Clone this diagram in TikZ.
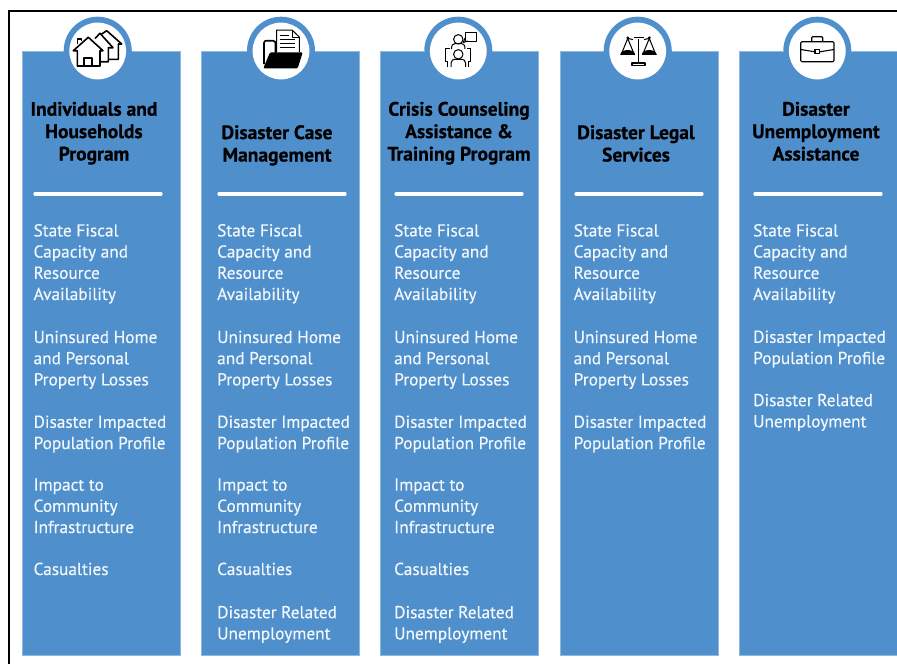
\documentclass[tikz,border=0pt]{standalone}
\usepackage{fontspec}
\setmainfont{PT Sans}
\newfontfamily\bodyface{PT Sans}[RawFeature={embolden=0.35}]
\newfontfamily\headface{PT Sans Bold}[RawFeature={embolden=0.5}]
\definecolor{panelblue}{HTML}{4F8FCC}
\definecolor{paneledge}{HTML}{8DB8E2}
\definecolor{bodywhite}{HTML}{F2F7FC}
\tikzset{
  panel/.style={fill=panelblue,draw=paneledge,line width=0.6pt},
  ringout/.style={fill=panelblue,draw=none},
  ringin/.style={fill=white,draw=none},
  titletext/.style={font=\fontsize{19.5}{22.4}\headface,text=black,align=center,inner sep=0pt,anchor=base},
  bodytext/.style={font=\fontsize{17.3}{21.2}\bodyface,text=bodywhite,align=left,inner sep=0pt,anchor=base west},
  rulewhite/.style={draw=white,line width=3.2pt,line cap=round},
  ico/.style={draw=black,line width=1.6pt,line join=round,fill=none},
  icothin/.style={draw=black,line width=1pt,line join=round,fill=none},
}
\begin{document}
\begin{tikzpicture}[x=1pt,y=-1pt]
\useasboundingbox (0,0) rectangle (897,664);
\fill[white] (0,0) rectangle (897,664);
\draw[black,line width=2pt] (9,664) -- (9,10.5) -- (897,10.5);
% circles and panels
\foreach \cx in {97.7,281,458.3,637.7,817.3}{
  \fill[ringout] (\cx,50.7) circle[radius=34];
}
\begin{scope}
\clip (0,0) rectangle (897,664);
\fill[panel] (22.5,51.5) rectangle (180.5,655.5);
\fill[panel] (201.5,51.5) rectangle (359.5,655.5);
\fill[panel] (380.5,51.5) rectangle (538.5,655.5);
\fill[panel] (560,51.5) rectangle (718,655.5);
\fill[panel] (739.5,51.5) rectangle (900,655.5);
\draw[paneledge,line width=0.6pt] (22.5,51.5) rectangle (180.5,655.5);
\draw[paneledge,line width=0.6pt] (201.5,51.5) rectangle (359.5,655.5);
\draw[paneledge,line width=0.6pt] (380.5,51.5) rectangle (538.5,655.5);
\draw[paneledge,line width=0.6pt] (560,51.5) rectangle (718,655.5);
\draw[paneledge,line width=0.6pt] (739.5,51.5) rectangle (900,655.5);
\end{scope}
\foreach \cx in {97.7,281,458.3,637.7,817.3}{
  \fill[panelblue] (\cx-33.8,50) rectangle (\cx+33.8,53);
  \fill[ringin] (\cx,51) circle[radius=28.4];
}
% icon: houses
\draw[ico] (95,38.5) -- (100,33.3) -- (113,47.7) -- (108.3,47.7) -- (108.3,61.7) -- (100,61.7);
\draw[ico] (101,34.5) -- (106.7,30.7) -- (121.7,44) -- (118.3,44) -- (118.3,59.3) -- (108.3,59.3);
\fill[white] (88.3,37.3) -- (73.3,50.7) -- (77.3,50.7) -- (77.3,66) -- (100,66) -- (100,50.7) -- (103,50.7) -- cycle;
\draw[ico] (88.3,37.3) -- (73.3,50.7) -- (77.3,50.7) -- (77.3,66) -- (100,66) -- (100,50.7) -- (103,50.7) -- cycle;
\draw[ico] (84,66) -- (84,58) -- (92,58) -- (92,66);
\draw[ico] (77.5,44) -- (77.5,39) -- (81.5,39) -- (81.5,40.5);
% icon: folder
\draw[ico] (264,64) -- (264,43) .. controls (264,41.5) and (265,40.7) .. (266,40.7) -- (273,40.7) .. controls (275,40.7) and (275.5,42) .. (275.5,44) -- (275.5,54);
\draw[icothin,fill=white] (276.7,52) -- (276.7,30) -- (292,30) -- (299.3,37) -- (299.3,52);
\draw[icothin] (292,30) -- (292,37) -- (299.3,37);
\draw[icothin] (279.5,35) -- (289,35) (279.5,39) -- (295,39) (279.5,43) -- (295,43) (279.5,47) -- (295,47);
\fill[black,rounded corners=1.2pt] (270,52.3) -- (302.7,52.3) -- (297.7,68.3) -- (263.3,68.3) -- cycle;
% icon: people
\draw[icothin] (458.3,39.3) circle[radius=4.7];
\draw[icothin] (451.5,49) .. controls (451.5,45) and (453,43.6) .. (455,43.6) -- (461.6,43.6) .. controls (463.6,43.6) and (465,45) .. (465,49);
\draw[icothin] (465,32.7) rectangle (476.7,41);
\draw[icothin] (465,38) -- (463.3,42.5) -- (468,41);
\draw[icothin] (458.3,54.3) circle[radius=4.7];
\draw[icothin] (451,66.8) -- (451,63) .. controls (451,60) and (453.5,59.3) .. (455,59.3) -- (461.6,59.3) .. controls (463,59.3) and (465.6,60) .. (465.6,63) -- (465.6,66.8);
\draw[icothin] (450,48.3) -- (445,48.3) -- (445,61.7) -- (447.5,61.7) -- (447.5,66.8);
\draw[icothin] (466.5,48.3) -- (470.5,48.3) -- (470.5,61.7) -- (468.5,61.7) -- (468.5,66.8);
% icon: scales
\draw[ico] (638.3,38.5) -- (638.3,62.5);
\draw[ico,fill=white] (631.7,62.8) rectangle (645,65.5);
\draw[ico] (633.5,37.5) -- (643.5,37.5);
\draw[icothin] (628,38.5) -- (633,39.5) (644,39.5) -- (649,38.5);
\draw[icothin] (627.7,38.5) -- (621,55) (627.7,38.5) -- (634.5,55);
\draw[icothin] (649.3,38.5) -- (642.5,55) (649.3,38.5) -- (656,55);
\fill[black] (627.7,37.8) circle[radius=1.5] (649.3,37.8) circle[radius=1.5];
\fill[black] (620.3,54.8) -- (635.1,54.8) arc[start angle=0,end angle=180,x radius=7.4,y radius=-4.8] -- cycle;
\fill[black] (641.9,54.8) -- (656.7,54.8) arc[start angle=0,end angle=180,x radius=7.4,y radius=-4.8] -- cycle;
% icon: briefcase
\draw[icothin,rounded corners=1.2pt,line width=1.1pt] (800.7,41.7) rectangle (834,61.7);
\draw[icothin,line width=1.1pt] (800.7,49.5) -- (814.8,51.8) (819.8,51.8) -- (834,49.5);
\draw[icothin,rounded corners=1pt,line width=1.1pt] (811.7,41.7) -- (811.7,36.7) -- (822.7,36.7) -- (822.7,41.7);
\draw[icothin,fill=white,line width=1.1pt] (815,49.5) rectangle (819.6,53.8);
% titles
\node[titletext] (t1) at (94,160.5) {Individuals and\\Households\\Program};
\node[titletext] (t2) at (277,161.5) {Disaster Case\\Management};
\node[titletext] (t3) at (459,160.5) {Crisis Counseling\\Assistance \&\\Training Program};
\node[titletext] (t4) at (636,161.5) {Disaster Legal\\Services};
\node[titletext] (t5) at (816,160.5) {Disaster\\Unemployment\\Assistance};
% rules
\coordinate (ra1) at (35,194); \coordinate (rb1) at (161,194);
\coordinate (ra2) at (219,194); \coordinate (rb2) at (345,194);
\coordinate (ra3) at (396,194); \coordinate (rb3) at (522,194);
\coordinate (ra4) at (576,194); \coordinate (rb4) at (702,194);
\coordinate (ra5) at (755,194); \coordinate (rb5) at (881,194);
\foreach \i in {1,...,5}{\draw[rulewhite] (ra\i) -- (rb\i);}
% column bodies
\foreach \x/\c in {33.4/a,217/b,394/c,573.5/d,753/e}{
  \node[bodytext] (\c1) at (\x,300) {State Fiscal\\Capacity and\\Resource\\Availability};
}
\foreach \x/\c in {33.4/a,217/b,394/c,573.5/d}{
  \node[bodytext] (\c2) at (\x,385.4) {Uninsured Home\\and Personal\\Property Losses};
  \node[bodytext] (\c3) at (\x,449) {Disaster Impacted\\Population Profile};
}
\foreach \x/\c in {33.4/a,217/b,394/c}{
  \node[bodytext] (\c4) at (\x,533) {Impact to\\Community\\Infrastructure};
  \node[bodytext] (\c5) at (\x,575) {Casualties};
}
\foreach \x/\c in {217/b,394/c}{
  \node[bodytext] (\c6) at (\x,639.4) {Disaster Related\\Unemployment};
}
\node[bodytext] (e2) at (753,364) {Disaster Impacted\\Population Profile};
\node[bodytext] (e3) at (753,427.3) {Disaster Related\\Unemployment};
\end{tikzpicture}
\end{document}
